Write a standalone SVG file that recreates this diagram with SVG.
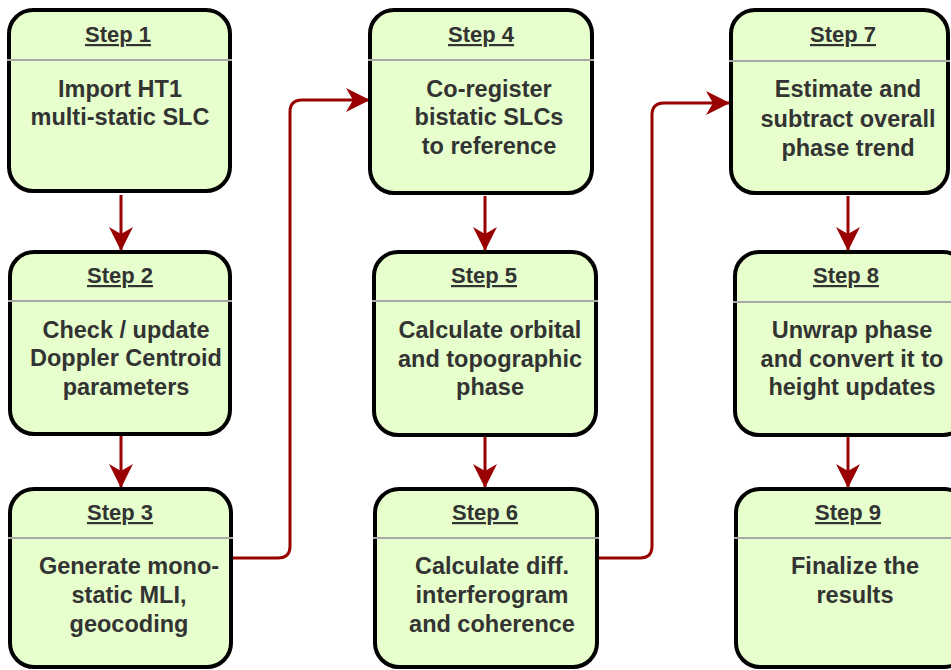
<svg xmlns="http://www.w3.org/2000/svg" width="951" height="670" viewBox="0 0 951 670">
<style>
.box{fill:#e6ffcc;stroke:#000;stroke-width:4}
.div{stroke:#a8a8a8;stroke-width:2}
.t{font-family:"Liberation Sans",Arial,sans-serif;font-weight:bold;font-size:22px;fill:#333;text-anchor:middle;text-decoration:underline}
.b{font-family:"Liberation Sans",Arial,sans-serif;font-weight:bold;font-size:23.5px;fill:#333;text-anchor:middle}
.c{fill:none;stroke:#990000;stroke-width:3;marker-end:url(#ah)}
</style>
<defs>
<marker id="ah" markerUnits="userSpaceOnUse" viewBox="0 0 24 24" refX="23" refY="12" markerWidth="24" markerHeight="24" orient="auto">
<path d="M0,0 L24,12 L0,24 L7,12 Z" fill="#990000"/>
</marker>
</defs>
<g id="connectors">
<path class="c" d="M121,195 V250"/>
<path class="c" d="M121,436 V487"/>
<path class="c" d="M485,196 V250"/>
<path class="c" d="M485,437 V487"/>
<path class="c" d="M848,196 V250"/>
<path class="c" d="M848,437 V487"/>
<path class="c" d="M233,558 H278 Q290,558 290,546 V112 Q290,100 302,100 H369"/>
<path class="c" d="M599,558 H640 Q652,558 652,546 V115 Q652,103 664,103 H729"/>
</g>
<g id="step1">
<rect class="box" x="9" y="10" width="221" height="181" rx="24"/>
<line class="div" x1="7" y1="60" x2="232" y2="60"/>
<text class="t" x="118" y="42">Step 1</text>
<text class="b" x="120" y="97">Import HT1</text>
<text class="b" x="120" y="125">multi-static SLC</text>
</g>
<g id="step2">
<rect class="box" x="10" y="252" width="220" height="182" rx="24"/>
<line class="div" x1="8" y1="301" x2="232" y2="301"/>
<text class="t" x="120" y="283">Step 2</text>
<text class="b" x="126" y="338">Check / update</text>
<text class="b" x="126" y="366">Doppler Centroid</text>
<text class="b" x="126" y="395">parameters</text>
</g>
<g id="step3">
<rect class="box" x="10" y="489" width="221" height="178" rx="24"/>
<line class="div" x1="8" y1="538" x2="233" y2="538"/>
<text class="t" x="120" y="520">Step 3</text>
<text class="b" x="129" y="574">Generate mono-</text>
<text class="b" x="129" y="603">static MLI,</text>
<text class="b" x="129" y="632">geocoding</text>
</g>
<g id="step4">
<rect class="box" x="370" y="10" width="222" height="183" rx="24"/>
<line class="div" x1="368" y1="60" x2="594" y2="60"/>
<text class="t" x="481" y="42">Step 4</text>
<text class="b" x="489" y="97">Co-register</text>
<text class="b" x="489" y="125">bistatic SLCs</text>
<text class="b" x="489" y="154">to reference</text>
</g>
<g id="step5">
<rect class="box" x="374" y="252" width="222" height="183" rx="24"/>
<line class="div" x1="372" y1="301" x2="598" y2="301"/>
<text class="t" x="484" y="283">Step 5</text>
<text class="b" x="490" y="338">Calculate orbital</text>
<text class="b" x="490" y="367">and topographic</text>
<text class="b" x="490" y="395">phase</text>
</g>
<g id="step6">
<rect class="box" x="375" y="489" width="222" height="178" rx="24"/>
<line class="div" x1="373" y1="538" x2="599" y2="538"/>
<text class="t" x="485" y="520">Step 6</text>
<text class="b" x="492" y="574">Calculate diff.</text>
<text class="b" x="492" y="603">interferogram</text>
<text class="b" x="492" y="632">and coherence</text>
</g>
<g id="step7">
<rect class="box" x="731" y="10" width="217" height="183" rx="24"/>
<line class="div" x1="729" y1="61" x2="950" y2="61"/>
<text class="t" x="843" y="42">Step 7</text>
<text class="b" x="848" y="97">Estimate and</text>
<text class="b" x="848" y="127">subtract overall</text>
<text class="b" x="848" y="156">phase trend</text>
</g>
<g id="step8">
<rect class="box" x="735" y="252" width="232" height="183" rx="24"/>
<line class="div" x1="733" y1="302" x2="951" y2="302"/>
<text class="t" x="846" y="283">Step 8</text>
<text class="b" x="852" y="338">Unwrap phase</text>
<text class="b" x="852" y="367">and convert it to</text>
<text class="b" x="852" y="395">height updates</text>
</g>
<g id="step9">
<rect class="box" x="736" y="489" width="232" height="178" rx="24"/>
<line class="div" x1="734" y1="538" x2="951" y2="538"/>
<text class="t" x="848" y="520">Step 9</text>
<text class="b" x="855" y="574">Finalize the</text>
<text class="b" x="855" y="603">results</text>
</g>
</svg>
